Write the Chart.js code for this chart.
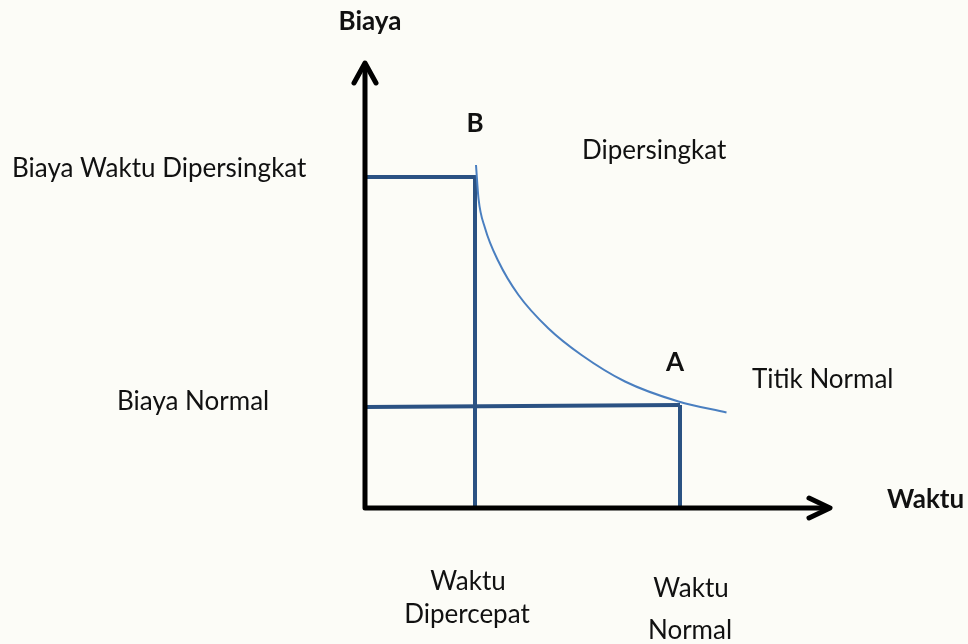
<!DOCTYPE html>
<html>
<head>
<meta charset="utf-8">
<script src="https://cdn.jsdelivr.net/npm/chart.js@4"></script>
<style>
  body { margin: 0; background: #fcfcf7; }
  #wadah { width: 968px; height: 644px; }
</style>
</head>
<body>
<div id="wadah"><canvas id="grafik" width="968" height="644"></canvas></div>
<script>
// Kurva biaya-waktu (satuan bebas)
var kurvaWaktu = [2.22, 2.27, 2.40, 2.67, 3.07, 3.67, 4.33, 5.20, 6.27, 7.23];
var kurvaBiaya = [6.86, 6.19, 5.60, 4.93, 4.26, 3.59, 3.06, 2.53, 2.13, 1.91];

// Titik B (dipersingkat) dan titik A (normal)
var waktuDipercepat = 2.2;
var waktuNormal = 6.3;
var biayaDipersingkat = 6.62;
var biayaNormal = [2.02, 2.06];

// Ujung sumbu
var waktuMaks = 9.3;
var biayaMaks = 8.9;

// Teks
var judulSumbu = ['Biaya', 'Waktu'];
var teksTitik = ['B', 'A'];
var teksBiaya = ['Biaya Waktu Dipersingkat', 'Biaya Normal'];
var teksKurva = ['Dipersingkat', 'Titik Normal'];
var teksWaktu = [['Waktu', 'Dipercepat'], ['Waktu', 'Normal']];

// posisi teks (x, y dalam satuan grafik, perataan, tebal)
var letakTeks = [
    { t: judulSumbu[0], x: 0.1, y: 9.56, a: 'center', b: true },
    { t: judulSumbu[1], x: 10.44, y: 0.0, a: 'left', b: true },
    { t: teksTitik[0], x: 2.2, y: 7.52, a: 'center', b: true },
    { t: teksTitik[1], x: 6.2, y: 2.74, a: 'center', b: true },
    { t: teksBiaya[0], x: -7.06, y: 6.62, a: 'left', b: false },
    { t: teksBiaya[1], x: -4.96, y: 1.96, a: 'left', b: false },
    { t: teksKurva[0], x: 4.34, y: 6.98, a: 'left', b: false },
    { t: teksKurva[1], x: 7.74, y: 2.4, a: 'left', b: false },
    { t: teksWaktu[0][0], x: 2.06, y: -1.64, a: 'center', b: false },
    { t: teksWaktu[0][1], x: 2.04, y: -2.3, a: 'center', b: false },
    { t: teksWaktu[1][0], x: 6.52, y: -1.78, a: 'center', b: false },
    { t: teksWaktu[1][1], x: 6.5, y: -2.62, a: 'center', b: false }
];

var warnaGaris = '#2b5283';
var warnaKurva = '#4a7fc0';

function titik(xs, ys) {
    return xs.map(function (x, i) { return { x: x, y: ys[i] }; });
}

var pluginLatar = {
    id: 'latar',
    beforeDraw: function (chart) {
        var ctx = chart.ctx;
        ctx.save();
        ctx.fillStyle = '#fcfcf7';
        ctx.fillRect(0, 0, chart.width, chart.height);
        ctx.restore();
    }
};

var pluginSumbu = {
    id: 'sumbu',
    afterDatasetsDraw: function (chart) {
        var ctx = chart.ctx;
        var sx = chart.scales.x, sy = chart.scales.y;
        var x0 = sx.getPixelForValue(0), y0 = sy.getPixelForValue(0);
        var xUjung = sx.getPixelForValue(waktuMaks);
        var yUjung = sy.getPixelForValue(biayaMaks);

        ctx.save();
        ctx.strokeStyle = '#000';
        ctx.lineWidth = 5;
        ctx.lineCap = 'round';
        ctx.lineJoin = 'round';

        // sumbu tegak dan datar
        ctx.beginPath();
        ctx.moveTo(x0, yUjung + 2);
        ctx.lineTo(x0, y0);
        ctx.lineTo(xUjung - 2, y0);
        ctx.stroke();

        // kepala panah
        ctx.beginPath();
        ctx.moveTo(x0 - 11, yUjung + 20);
        ctx.lineTo(x0, yUjung);
        ctx.lineTo(x0 + 11, yUjung + 20);
        ctx.moveTo(xUjung - 21, y0 - 10);
        ctx.lineTo(xUjung, y0);
        ctx.lineTo(xUjung - 21, y0 + 10);
        ctx.stroke();

        // teks
        ctx.fillStyle = '#111';
        ctx.textBaseline = 'alphabetic';
        letakTeks.forEach(function (l) {
            ctx.font = (l.b ? 'bold ' : '') + '26px Lato';
            ctx.textAlign = l.a;
            ctx.fillText(l.t, sx.getPixelForValue(l.x), sy.getPixelForValue(l.y));
        });
        ctx.restore();
    }
};

var ctx = document.getElementById('grafik').getContext('2d');
var grafik = new Chart(ctx, {
    type: 'scatter',
    data: {
        datasets: [
            {
                label: 'Kurva',
                data: titik(kurvaWaktu, kurvaBiaya),
                showLine: true,
                borderColor: warnaKurva,
                borderWidth: 2,
                pointRadius: 0,
                cubicInterpolationMode: 'monotone'
            },
            {
                label: 'B',
                data: titik([0, waktuDipercepat, waktuDipercepat], [biayaDipersingkat, biayaDipersingkat, 0]),
                showLine: true,
                borderColor: warnaGaris,
                borderWidth: 4,
                pointRadius: 0,
                borderJoinStyle: 'miter'
            },
            {
                label: 'A datar',
                data: titik([0, waktuNormal], biayaNormal),
                showLine: true,
                borderColor: warnaGaris,
                borderWidth: 4,
                pointRadius: 0
            },
            {
                label: 'A tegak',
                data: titik([waktuNormal, waktuNormal], [biayaNormal[1], 0]),
                showLine: true,
                borderColor: warnaGaris,
                borderWidth: 4,
                pointRadius: 0
            }
        ]
    },
    options: {
        responsive: false,
        animation: false,
        layout: { padding: 0 },
        plugins: {
            legend: { display: false },
            tooltip: { enabled: false }
        },
        scales: {
            x: { type: 'linear', min: -7.3, max: 12.06, display: false },
            y: { type: 'linear', min: -2.72, max: 10.16, display: false }
        }
    },
    plugins: [pluginLatar, pluginSumbu]
});
</script>
</body>
</html>
